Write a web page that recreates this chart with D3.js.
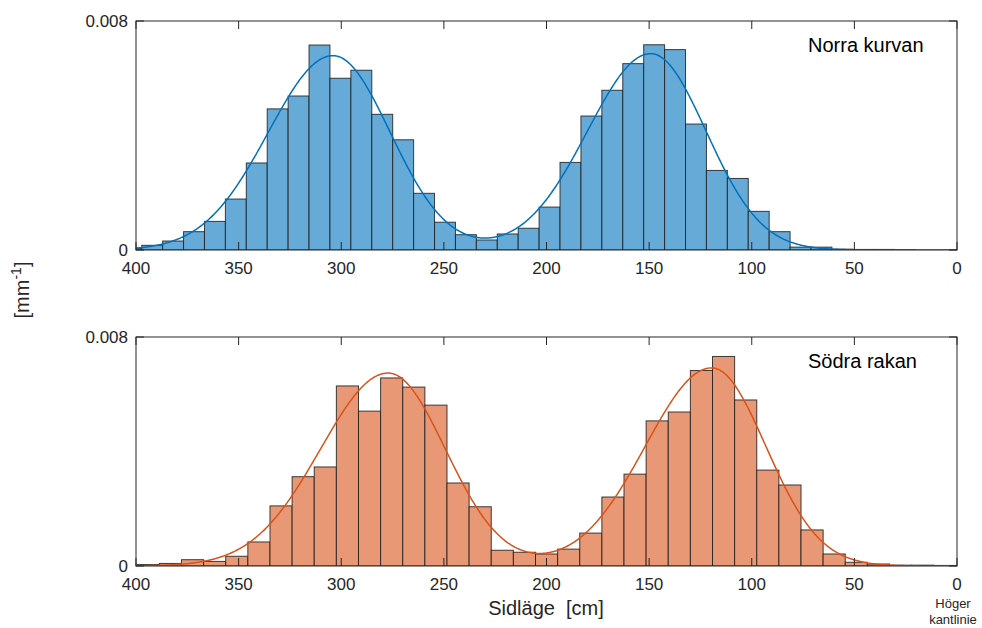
<!DOCTYPE html>
<html>
<head>
<meta charset="utf-8">
<script src="https://cdn.jsdelivr.net/npm/d3@7"></script>
<style>
  html, body { margin: 0; padding: 0; background: #fff; }
  svg { display: block; font-family: Arial, "Liberation Sans", sans-serif; }
</style>
</head>
<body>
<svg id="chart" width="982" height="628"></svg>
<script>
// Lateral position histograms (density per mm), x runs from 400 cm down to the right edge line at 0.
const xTicks = [400, 350, 300, 250, 200, 150, 100, 50, 0];
const yTicks = [0, 0.008];
const yTickLabels = ["0", "0.008"];

// Northern curve ("Norra kurvan")
const northBinStart = 407.4;   // cm, left edge of first bin
const northBinWidth = 10.19;   // cm
const northDensity = [0.00006, 0.000164, 0.000314, 0.00064, 0.0010, 0.00178, 0.00304, 0.00493, 0.00538, 0.00716,
  0.0060, 0.00628, 0.00474, 0.00385, 0.00198, 0.00097, 0.000535, 0.00035, 0.00056, 0.00076,
  0.0015, 0.00306, 0.00468, 0.00558, 0.00651, 0.00717, 0.0070, 0.0044, 0.00278, 0.0025,
  0.00135, 0.00064, 0.0001, 0.0001, 0.00003, 0.00002, 0.00002, 0.00001];
// fitted two-piece normal humps: centre, spread towards larger / smaller positions, peak density
const northFitMu = [304, 149.2];
const northFitSigmaHigh = [31.5, 30.8];
const northFitSigmaLow = [27.8, 26.9];
const northFitPeak = [0.00679, 0.00686];

// Southern straight ("Södra rakan")
const southBinStart = 399.4;
const southBinWidth = 10.78;
const southDensity = [0.00005, 0.00009, 0.00022, 0.00016, 0.00034, 0.00084, 0.0021, 0.00312, 0.00346, 0.00629,
  0.00541, 0.00657, 0.00625, 0.00562, 0.0029, 0.00207, 0.00055, 0.00048, 0.00042, 0.00059,
  0.00115, 0.00241, 0.00321, 0.00507, 0.00538, 0.00683, 0.00732, 0.0058, 0.00335, 0.00283,
  0.00126, 0.00042, 0.00013, 0.00007, 0.00003, 0.00003, 0.00002];
const southFitMu = [277.1, 119.5];
const southFitSigmaHigh = [33, 32.3];
const southFitSigmaLow = [27.8, 26.3];
const southFitPeak = [0.00674, 0.00692];

const panels = [
  { title: "Norra kurvan", start: northBinStart, width: northBinWidth, values: northDensity,
    mu: northFitMu, sHigh: northFitSigmaHigh, sLow: northFitSigmaLow, peak: northFitPeak,
    fill: "#66aad7", line: "#0072bd", top: 21 },
  { title: "Södra rakan", start: southBinStart, width: southBinWidth, values: southDensity,
    mu: southFitMu, sHigh: southFitSigmaHigh, sLow: southFitSigmaLow, peak: southFitPeak,
    fill: "#e89875", line: "#d95319", top: 337 }
];

const svg = d3.select("#chart");
const left = 136, right = 957, plotH = 229;
const axisColor = "#262626";
const x = d3.scaleLinear().domain([400, 0]).range([left, right]);

function fitValue(p, v) {
  let s = 0;
  for (let k = 0; k < p.mu.length; k++) {
    const sig = v >= p.mu[k] ? p.sHigh[k] : p.sLow[k];
    const d = (v - p.mu[k]) / sig;
    s += p.peak[k] * Math.exp(-0.5 * d * d);
  }
  return s;
}

panels.forEach((p, i) => {
  const top = p.top, bottom = top + plotH;
  const y = d3.scaleLinear().domain([0, 0.008]).range([bottom, top]);
  const g = svg.append("g");

  const clipId = "clip" + i;
  svg.append("clipPath").attr("id", clipId)
    .append("rect").attr("x", left).attr("y", top).attr("width", right - left).attr("height", plotH);

  const bins = p.values.map((v, j) => ({ hi: p.start - j * p.width, lo: p.start - (j + 1) * p.width, v }));

  const plot = g.append("g").attr("clip-path", `url(#${clipId})`);
  plot.selectAll("rect.bar").data(bins).enter().append("rect")
    .attr("class", "bar")
    .attr("x", d => x(d.hi))
    .attr("width", d => x(d.lo) - x(d.hi))
    .attr("y", d => y(d.v))
    .attr("height", d => y(0) - y(d.v))
    .attr("fill", p.fill)
    .attr("stroke", "#1e1e1e")
    .attr("stroke-opacity", 0.85)
    .attr("stroke-width", 1);

  const pts = d3.range(0, 400.01, 0.5).map(v => [v, fitValue(p, v)]);
  plot.append("path")
    .attr("d", d3.line().x(d => x(d[0])).y(d => y(d[1]))(pts))
    .attr("fill", "none")
    .attr("stroke", p.line)
    .attr("stroke-width", 1.5);

  // box
  g.append("rect").attr("x", left).attr("y", top).attr("width", right - left).attr("height", plotH)
    .attr("fill", "none").attr("stroke", axisColor).attr("stroke-width", 1);

  // ticks pointing inward on both horizontal edges
  const tl = 8;
  xTicks.forEach(t => {
    g.append("line").attr("x1", x(t)).attr("x2", x(t)).attr("y1", bottom).attr("y2", bottom - tl)
      .attr("stroke", axisColor);
    g.append("line").attr("x1", x(t)).attr("x2", x(t)).attr("y1", top).attr("y2", top + tl)
      .attr("stroke", axisColor);
    g.append("text").attr("x", x(t)).attr("y", bottom + 24)
      .attr("text-anchor", "middle").attr("font-size", 17).attr("fill", axisColor).text(t);
  });
  yTicks.forEach((t, k) => {
    g.append("line").attr("x1", left).attr("x2", left + tl).attr("y1", y(t)).attr("y2", y(t)).attr("stroke", axisColor);
    g.append("line").attr("x1", right).attr("x2", right - tl).attr("y1", y(t)).attr("y2", y(t)).attr("stroke", axisColor);
    g.append("text").attr("x", left - 8).attr("y", y(t) + 6)
      .attr("text-anchor", "end").attr("font-size", 17).attr("fill", axisColor).text(yTickLabels[k]);
  });

  g.append("text").attr("x", 808).attr("y", top + 31)
    .attr("font-size", 20).attr("fill", "#000").text(p.title);
});

// x-axis title
svg.append("text").attr("x", 546).attr("y", 615).attr("text-anchor", "middle")
  .attr("font-size", 20).attr("fill", axisColor).attr("xml:space", "preserve")
  .style("white-space", "pre").text("Sidläge  [cm]");

// right edge line marker under 0
svg.append("text").attr("x", 953).attr("y", 608).attr("text-anchor", "middle")
  .attr("font-size", 13).attr("fill", axisColor).text("Höger");
svg.append("text").attr("x", 953).attr("y", 624).attr("text-anchor", "middle")
  .attr("font-size", 13).attr("fill", axisColor).text("kantlinie");

// y-axis unit
const yl = svg.append("text").attr("transform", "translate(29,290) rotate(-90)")
  .attr("text-anchor", "middle").attr("font-size", 20).attr("fill", axisColor);
yl.append("tspan").text("[mm");
yl.append("tspan").attr("dy", -8).attr("font-size", 14).text("-1");
yl.append("tspan").attr("dy", 8).text("]");
</script>
</body>
</html>
